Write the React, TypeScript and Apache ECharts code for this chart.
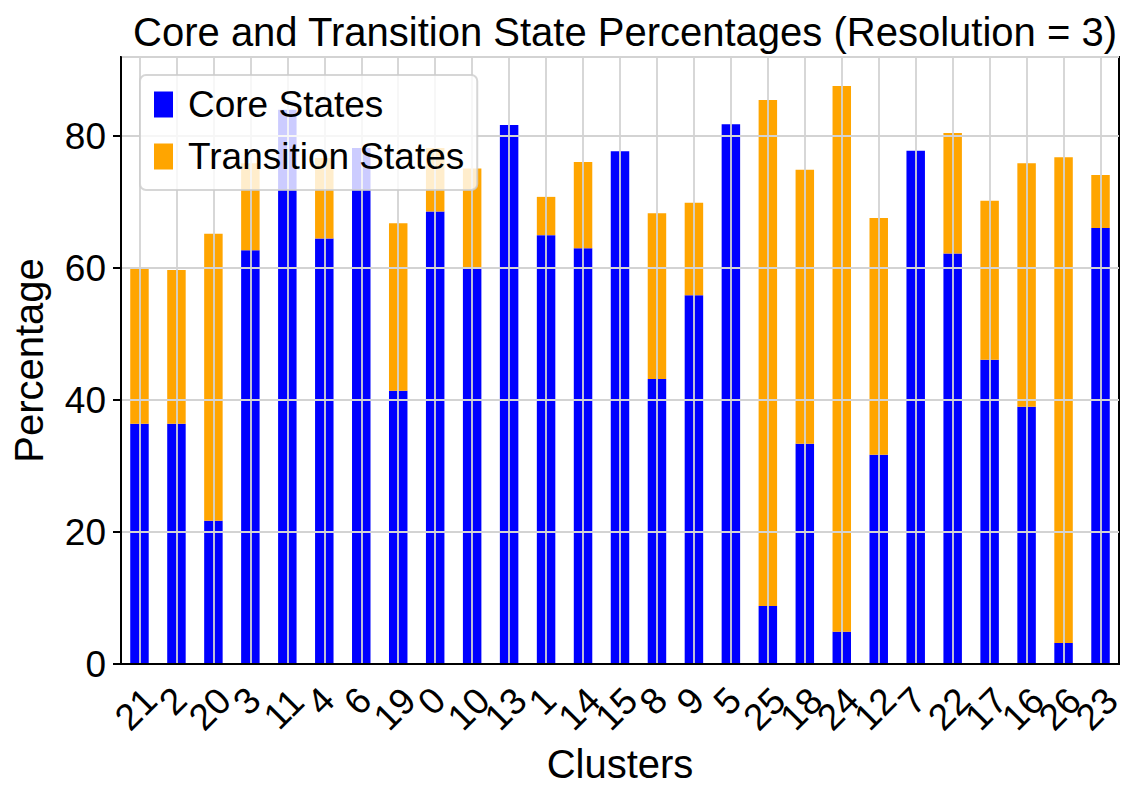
import { useEffect, useRef } from 'react';
import * as echarts from 'echarts';

// Cluster order along the x axis
const clusters = ['21', '2', '20', '3', '11', '4', '6', '19', '0', '10', '13', '1', '14', '15', '8', '9', '5', '25', '18', '24', '12', '7', '22', '17', '16', '26', '23'];

// Percentage of cells in core states per cluster
const coreStates = [36.4, 36.4, 21.7, 62.7, 84.0, 64.5, 78.2, 41.4, 68.6, 60.0, 81.7, 65.0, 63.0, 77.7, 43.2, 55.9, 81.8, 8.8, 33.4, 4.9, 31.7, 77.8, 62.2, 46.1, 39.0, 3.2, 66.1];

// Percentage of cells in transition states per cluster (stacked on top)
const transitionStates = [23.5, 23.3, 43.5, 13.2, 0, 12.2, 0, 25.4, 9.6, 15.1, 0, 5.8, 13.1, 0, 25.1, 14.0, 0, 76.7, 41.5, 82.7, 35.9, 0, 18.3, 24.1, 36.9, 73.6, 8.0];

const seriesNames = ['Core States', 'Transition States'];

const FONT = "'Liberation Sans', Arial, sans-serif";

export default function App() {
  const ref = useRef<HTMLDivElement>(null);

  useEffect(() => {
    if (!ref.current) return;
    const chart = echarts.init(ref.current, undefined, { renderer: 'svg' });

    const option = {
      animation: false,
      backgroundColor: '#ffffff',
      title: {
        text: 'Core and Transition State Percentages (Resolution = 3)',
        left: 620,
        top: 7,
        textAlign: 'center',
        textStyle: { fontSize: 40, fontWeight: 'normal', color: '#000', fontFamily: FONT },
      },
      legend: {
        orient: 'vertical',
        left: 140,
        top: 75,
        z: 10,
        padding: [11, 13, 15, 14],
        itemGap: 15,
        itemWidth: 19,
        itemHeight: 26,
        icon: 'rect',
        backgroundColor: 'rgba(255,255,255,0.8)',
        borderColor: 'rgba(204,204,204,0.8)',
        borderWidth: 2,
        borderRadius: 6,
        textStyle: { fontSize: 37, color: '#000', fontFamily: FONT, padding: [0, 0, 0, 10] },
        data: seriesNames,
      },
      grid: {
        left: 121,
        right: 26,
        top: 57,
        bottom: 134,
        show: true,
        borderColor: '#000',
        borderWidth: 2,
        backgroundColor: 'transparent',
      },
      xAxis: {
        type: 'category',
        data: clusters,
        z: 3,
        boundaryGap: true,
        name: 'Clusters',
        nameLocation: 'middle',
        nameGap: 74,
        nameTextStyle: { fontSize: 40, color: '#000', fontFamily: FONT },
        axisLine: { lineStyle: { color: '#000', width: 2 } },
        axisTick: { alignWithLabel: true, interval: 0, length: 8, lineStyle: { color: '#000', width: 2 } },
        axisLabel: {
          interval: 0,
          rotate: 45,
          align: 'center',
          verticalAlign: 'middle',
          margin: 45,
          color: '#000',
          fontSize: 37,
          fontFamily: FONT,
          formatter: (v: string) => (v.length === 1 ? `{one|${v}}` : `{two|${v}}`),
          rich: {
            one: { fontSize: 37, fontFamily: FONT, color: '#000', padding: [0, 0, 16, 6] },
            two: { fontSize: 37, fontFamily: FONT, color: '#000', padding: [0, 5, 5, 0] },
          },
        },
        splitLine: {
          show: true,
          alignWithLabel: true,
          interval: 0,
          lineStyle: { color: '#d3d3d3', width: 1.8 },
        },
      },
      yAxis: {
        type: 'value',
        min: 0,
        max: 92,
        interval: 20,
        z: 3,
        name: 'Percentage',
        nameLocation: 'middle',
        nameRotate: 90,
        nameGap: 72,
        nameTextStyle: { fontSize: 40, color: '#000', fontFamily: FONT },
        axisLine: { show: true, lineStyle: { color: '#000', width: 2 } },
        axisTick: { show: true, length: 8, lineStyle: { color: '#000', width: 2 } },
        axisLabel: { margin: 15, color: '#000', fontSize: 37, fontFamily: FONT, showMaxLabel: false },
        splitLine: { show: true, lineStyle: { color: '#d3d3d3', width: 1.8 } },
      },
      series: [
        {
          name: seriesNames[0],
          type: 'bar',
          stack: 'total',
          barWidth: '50%',
          itemStyle: { color: '#0000ff' },
          data: coreStates,
        },
        {
          name: seriesNames[1],
          type: 'bar',
          stack: 'total',
          barWidth: '50%',
          itemStyle: { color: '#ffa500' },
          data: transitionStates,
        },
      ],
    };

    chart.setOption(option);
    return () => chart.dispose();
  }, []);

  return (
    <div
      ref={ref}
      style={{ position: 'fixed', left: 0, top: 0, width: 1145, height: 798, background: '#fff' }}
    />
  );
}
